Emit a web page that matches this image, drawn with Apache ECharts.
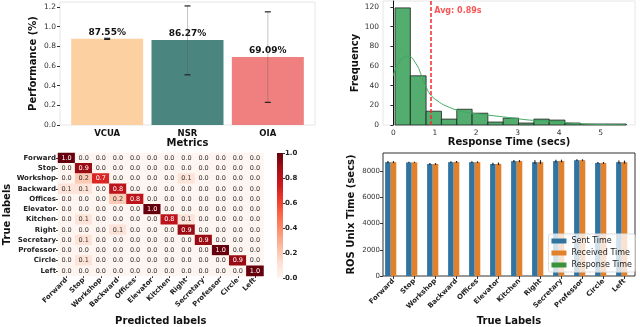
<!DOCTYPE html>
<html>
<head>
<meta charset="utf-8">
<script src="https://cdn.jsdelivr.net/npm/echarts@6/dist/echarts.min.js"></script>
<style>
  html, body { margin: 0; padding: 0; background: #fff; }
  #chart { width: 640px; height: 327px; }
</style>
</head>
<body>
<div id="chart"></div>
<script>
const FONT = 'DejaVu Sans';

// top left: performance per metric
const metrics = ['VCUA', 'NSR', 'OIA'];
const perf = [0.8755, 0.8627, 0.6909];
const perfLow = [0.870, 0.51, 0.23];
const perfHigh = [0.881, 1.21, 1.15];
const metricColors = ['#fdd0a2', '#4a8580', '#f08080'];

// top right: response time histogram
const binStart = [0.04, 0.41, 0.79, 1.16, 1.53, 1.90, 2.28, 2.65, 3.02, 3.39, 3.76, 4.14, 4.51, 4.88, 5.25];
const binEnd   = [0.41, 0.79, 1.16, 1.53, 1.90, 2.28, 2.65, 3.02, 3.39, 3.76, 4.14, 4.51, 4.88, 5.25, 5.62];
const binCounts = [119, 50, 14, 6, 16, 12, 3, 7, 2, 6, 5, 2, 1, 1, 1];
const kdeX = [0.0, 0.14, 0.35, 0.55, 0.68, 0.8, 0.89, 1.05, 1.29, 1.69, 2.09, 2.5, 2.89, 3.29, 3.69, 4.09, 4.5, 5.0, 5.6];
const kdeY = [50, 64, 70, 62, 50, 38, 31, 25, 19, 13.5, 11, 9, 7, 5, 4, 2.5, 1.2, 0.5, 0.3];
const avgTime = 0.89;

// bottom left: confusion matrix
const classes = ['Forward', 'Stop', 'Workshop', 'Backward', 'Offices', 'Elevator',
                 'Kitchen', 'Right', 'Secretary', 'Professor', 'Circle', 'Left'];
const confusion = [
  [1.0, 0, 0, 0, 0, 0, 0, 0, 0, 0, 0, 0],
  [0, 0.9, 0, 0, 0, 0, 0, 0, 0, 0, 0, 0],
  [0, 0.2, 0.7, 0, 0, 0, 0, 0.1, 0, 0, 0, 0],
  [0.1, 0.1, 0, 0.8, 0, 0, 0, 0, 0, 0, 0, 0],
  [0, 0, 0, 0.2, 0.8, 0, 0, 0, 0, 0, 0, 0],
  [0, 0, 0, 0, 0, 1.0, 0, 0, 0, 0, 0, 0],
  [0, 0.1, 0, 0, 0, 0, 0.8, 0.1, 0, 0, 0, 0],
  [0, 0, 0, 0.1, 0, 0, 0, 0.9, 0, 0, 0, 0],
  [0, 0.1, 0, 0, 0, 0, 0, 0, 0.9, 0, 0, 0],
  [0, 0, 0, 0, 0, 0, 0, 0, 0, 1.0, 0, 0],
  [0, 0.1, 0, 0, 0, 0, 0, 0, 0, 0, 0.9, 0],
  [0, 0, 0, 0, 0, 0, 0, 0, 0, 0, 0, 1.0]
];
const reds = ['#fff5f0', '#fee0d2', '#fcbba1', '#fc9272', '#fb6a4a', '#ef3b2c', '#cb181d', '#a50f15', '#67000d'];
const colorbarTicks = [0, 0.2, 0.4, 0.6, 0.8, 1.0];

// bottom right: ROS times per label
const sentTime = [8700, 8680, 8560, 8700, 8700, 8560, 8780, 8700, 8780, 8850, 8640, 8700];
const recvTime = [8700, 8680, 8560, 8720, 8700, 8570, 8780, 8700, 8790, 8850, 8640, 8700];
const respTime = [0.8, 0.7, 0.9, 1.0, 0.9, 1.1, 0.8, 0.9, 0.8, 0.7, 0.9, 1.0];
const sentErr = [80, 50, 70, 60, 60, 100, 80, 150, 100, 70, 70, 120];
const recvErr = [80, 50, 70, 70, 60, 100, 80, 150, 100, 70, 70, 120];

const chart = echarts.init(document.getElementById('chart'));

const boldName = { fontFamily: FONT, fontWeight: 'bold', fontSize: 10, color: '#111' };
const tickLbl = { fontFamily: FONT, fontSize: 7.5, color: '#333' };

// heatmap cells
const heatData = [];
confusion.forEach((row, r) => row.forEach((v, c) => {
  heatData.push({ value: [c, r, v], label: { color: v > 0.5 ? '#fff' : '#333' } });
}));

function errBars(offsetIdx, capColor, lineColor, grouped) {
  return function (params, api) {
    const c = api.value(0);
    const lo = api.coord([c, api.value(1)]);
    const hi = api.coord([c, api.value(2)]);
    let dx = 0;
    if (grouped) {
      const band = api.size([1, 0])[0];
      dx = (offsetIdx - 1) * band * 0.8 / 3;
    }
    const x = lo[0] + dx;
    const cap = grouped ? 0 : 3;
    const kids = [{ type: 'line', shape: { x1: x, y1: lo[1], x2: x, y2: hi[1] },
                    style: { stroke: lineColor, lineWidth: grouped ? 1.2 : 1 } }];
    if (cap) {
      kids.push({ type: 'line', shape: { x1: x - cap, y1: lo[1], x2: x + cap, y2: lo[1] }, style: { stroke: capColor, lineWidth: 1.2 } });
      kids.push({ type: 'line', shape: { x1: x - cap, y1: hi[1], x2: x + cap, y2: hi[1] }, style: { stroke: capColor, lineWidth: 1.2 } });
    }
    return { type: 'group', children: kids };
  };
}

const option = {
  animation: false,
  textStyle: { fontFamily: FONT },
  grid: [
    { left: 60, top: 2, width: 255, height: 123, show: true, borderColor: '#e6e6e6', borderWidth: 1 },
    { left: 67, top: 2, width: 241, height: 123 },
    { left: 383, top: 1, width: 252, height: 124, show: true, borderColor: '#e6e6e6', borderWidth: 1 },
    { left: 58, top: 153, width: 205.5, height: 124 },
    { left: 277, top: 153, width: 6, height: 125 },
    { left: 383, top: 153, width: 252, height: 125, show: true, borderColor: '#333', borderWidth: 1 }
  ],
  legend: {
    data: ['Sent Time', 'Received Time', 'Response Time'],
    orient: 'vertical', right: 5, bottom: 55,
    itemWidth: 15, itemHeight: 5, itemGap: 4, icon: 'rect',
    padding: [3, 3, 3, 3],
    backgroundColor: 'rgba(255,255,255,0.78)', borderColor: '#ddd', borderWidth: 1, borderRadius: 2,
    textStyle: { fontFamily: FONT, fontSize: 8, color: '#222' }
  },
  visualMap: {
    show: false, type: 'continuous', min: 0, max: 1, seriesIndex: 5,
    inRange: { color: reds }
  },
  xAxis: [
    { gridIndex: 0, type: 'value', show: false },
    { gridIndex: 1, type: 'category', data: metrics,
      axisLine: { show: false }, axisTick: { show: false },
      axisLabel: { fontFamily: FONT, fontWeight: 'bold', fontSize: 8.5, color: '#111', margin: 4 },
      name: 'Metrics', nameLocation: 'middle', nameGap: 12, nameTextStyle: boldName },
    { gridIndex: 2, type: 'value', min: -0.25, max: 5.83, interval: 0.25,
      axisLine: { show: false }, axisTick: { show: false }, splitLine: { show: false },
      axisLabel: Object.assign({}, tickLbl, { margin: 4, showMinLabel: false, showMaxLabel: false,
        formatter: v => Math.abs(v - Math.round(v)) < 1e-6 ? String(Math.round(v)) : '' }),
      name: 'Response Time (secs)', nameLocation: 'middle', nameGap: 12, nameTextStyle: boldName },
    { gridIndex: 3, type: 'category', data: classes,
      axisLine: { show: false }, axisTick: { show: true, length: 2, alignWithLabel: true, lineStyle: { color: '#333' } },
      axisLabel: { fontFamily: FONT, fontWeight: 'bold', fontSize: 7, color: '#222', rotate: 45, margin: 3, interval: 0 },
      name: 'Predicted labels', nameLocation: 'middle', nameGap: 40, nameTextStyle: boldName },
    { gridIndex: 4, type: 'category', data: ['c'], show: false },
    { gridIndex: 5, type: 'category', data: classes,
      axisLine: { show: false }, axisTick: { show: true, length: 3, alignWithLabel: true, lineStyle: { color: '#333' } },
      axisLabel: { fontFamily: FONT, fontWeight: 'bold', fontSize: 7, color: '#222', rotate: 45, margin: 4, interval: 0 },
      name: 'True Labels', nameLocation: 'middle', nameGap: 40, nameTextStyle: boldName }
  ],
  yAxis: [
    { gridIndex: 0, type: 'value', show: false },
    { gridIndex: 1, type: 'value', min: 0, max: 1.25, interval: 0.2, offset: 7,
      axisLine: { show: false }, axisTick: { show: true, length: 3, lineStyle: { color: '#333' } }, splitLine: { show: false },
      axisLabel: Object.assign({}, tickLbl, { margin: 4, formatter: v => v.toFixed(1) }),
      name: 'Performance (%)', nameLocation: 'middle', nameGap: 22, nameTextStyle: boldName },
    { gridIndex: 2, type: 'value', min: 0, max: 126, interval: 20,
      axisLine: { show: true, lineStyle: { color: '#111' } }, axisTick: { show: true, length: 3, lineStyle: { color: '#333' } },
      splitLine: { show: false },
      axisLabel: Object.assign({}, tickLbl, { margin: 4, showMaxLabel: false }),
      name: 'Frequency', nameLocation: 'middle', nameGap: 21, nameTextStyle: boldName },
    { gridIndex: 3, type: 'category', data: classes, inverse: true,
      axisLine: { show: false }, axisTick: { show: true, length: 2, alignWithLabel: true, lineStyle: { color: '#333' } },
      axisLabel: { fontFamily: FONT, fontWeight: 'bold', fontSize: 7, color: '#222', margin: 2, interval: 0 },
      name: 'True labels', nameLocation: 'middle', nameGap: 46, nameTextStyle: boldName },
    { gridIndex: 4, type: 'value', min: 0, max: 1, interval: 0.2, position: 'right',
      axisLine: { show: false }, axisTick: { show: true, length: 2, lineStyle: { color: '#333' } }, splitLine: { show: false },
      axisLabel: { fontFamily: FONT, fontWeight: 'bold', fontSize: 7, color: '#222', margin: 2, formatter: v => v.toFixed(1) } },
    { gridIndex: 5, type: 'value', min: 0, max: 9400, interval: 2000,
      axisLine: { show: false }, axisTick: { show: true, length: 3, lineStyle: { color: '#333' } }, splitLine: { show: false },
      axisLabel: Object.assign({}, tickLbl, { fontSize: 7, margin: 3, showMaxLabel: false,
        formatter: v => (v % 2000 === 0 ? String(v) : '') }),
      name: 'ROS Unix Time (secs)', nameLocation: 'middle', nameGap: 27, nameTextStyle: boldName }
  ],
  series: [
    // 0: metric bars
    { type: 'bar', xAxisIndex: 1, yAxisIndex: 1, barWidth: 72,
      data: perf.map((v, i) => ({ value: v, itemStyle: { color: metricColors[i] } })),
      label: { show: true, position: 'top', distance: 2, fontFamily: FONT, fontWeight: 'bold', fontSize: 9, color: '#111',
               formatter: p => (p.value * 100).toFixed(2) + '%' } },
    // 1: metric error bars
    { type: 'custom', xAxisIndex: 1, yAxisIndex: 1, silent: true,
      renderItem: errBars(1, '#222', 'rgba(90,90,90,0.35)', false),
      encode: { x: 0, y: [1, 2] },
      data: metrics.map((m, i) => [i, perfLow[i], perfHigh[i]]), z: 5 },
    // 2: histogram bars
    { type: 'custom', xAxisIndex: 2, yAxisIndex: 2,
      renderItem: function (params, api) {
        const p0 = api.coord([api.value(0), api.value(2)]);
        const p1 = api.coord([api.value(1), 0]);
        return { type: 'rect', shape: { x: p0[0], y: p0[1], width: p1[0] - p0[0], height: p1[1] - p0[1] },
                 style: { fill: '#52ad6e', stroke: '#1e1e1e', lineWidth: 0.8 } };
      },
      encode: { x: [0, 1], y: 2 },
      data: binCounts.map((c, i) => [binStart[i], binEnd[i], c]) },
    // 3: kde
    { type: 'line', xAxisIndex: 2, yAxisIndex: 2, smooth: true, symbol: 'none',
      lineStyle: { color: '#3fa861', width: 1 },
      data: kdeX.map((x, i) => [x, kdeY[i]]), z: 4,
      markLine: { silent: true, symbol: 'none', label: { show: false },
                  lineStyle: { color: '#f52b2b', type: [4, 2], width: 1.5 },
                  data: [{ xAxis: avgTime }] } },
    // 4: avg label
    { type: 'scatter', xAxisIndex: 2, yAxisIndex: 2, symbolSize: 0, silent: true,
      data: [[avgTime, 116]],
      label: { show: true, position: 'right', distance: 4, fontFamily: FONT, fontWeight: 'bold', fontSize: 8, color: '#f52b2b',
               formatter: () => 'Avg: ' + avgTime.toFixed(2) + 's' } },
    // 5: confusion heatmap
    { type: 'heatmap', xAxisIndex: 3, yAxisIndex: 3, data: heatData,
      label: { show: true, fontFamily: FONT, fontSize: 6.5, formatter: p => p.value[2].toFixed(1) } },
    // 6: colorbar
    { type: 'bar', xAxisIndex: 4, yAxisIndex: 4, barWidth: '100%', silent: true,
      data: [colorbarTicks[colorbarTicks.length - 1]],
      itemStyle: { color: { type: 'linear', x: 0, y: 1, x2: 0, y2: 0,
        colorStops: reds.map((c, i) => ({ offset: i / (reds.length - 1), color: c })) } } },
    // 7-9: ROS times
    { type: 'bar', name: 'Sent Time', xAxisIndex: 5, yAxisIndex: 5, data: sentTime,
      barGap: '0%', barCategoryGap: '20%', itemStyle: { color: '#3274a1' } },
    { type: 'bar', name: 'Received Time', xAxisIndex: 5, yAxisIndex: 5, data: recvTime,
      barGap: '0%', barCategoryGap: '20%', itemStyle: { color: '#e1812c' } },
    { type: 'bar', name: 'Response Time', xAxisIndex: 5, yAxisIndex: 5, data: respTime,
      barGap: '0%', barCategoryGap: '20%', itemStyle: { color: '#3a923a' } },
    // 10-11: ROS error bars
    { type: 'custom', xAxisIndex: 5, yAxisIndex: 5, silent: true, z: 5,
      renderItem: errBars(0, '#222', '#222', true), encode: { x: 0, y: [1, 2] },
      data: sentTime.map((v, i) => [i, v - sentErr[i], v + sentErr[i]]) },
    { type: 'custom', xAxisIndex: 5, yAxisIndex: 5, silent: true, z: 5,
      renderItem: errBars(1, '#222', '#222', true), encode: { x: 0, y: [1, 2] },
      data: recvTime.map((v, i) => [i, v - recvErr[i], v + recvErr[i]]) }
  ]
};

chart.setOption(option);
</script>
</body>
</html>
